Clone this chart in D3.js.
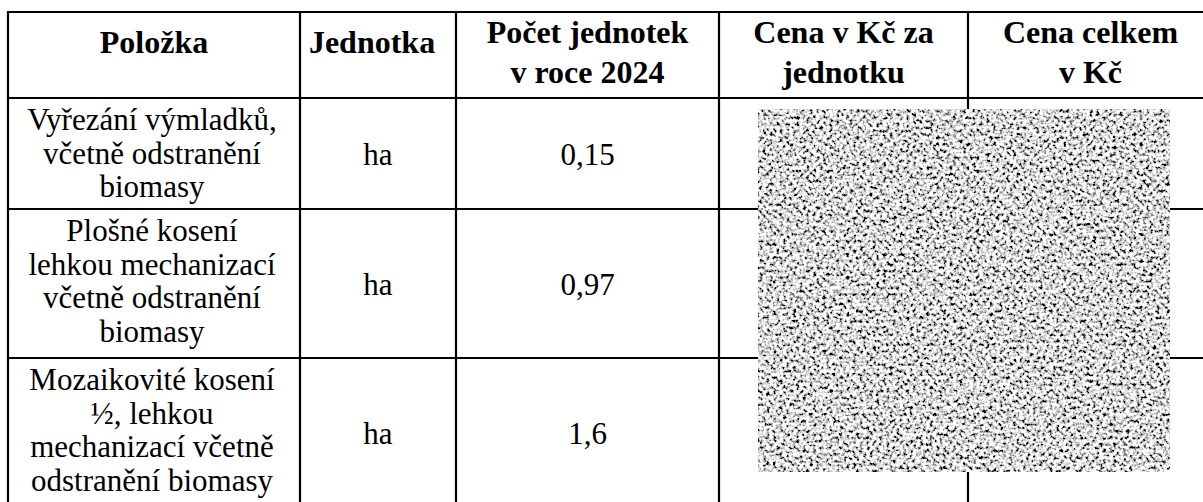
<!DOCTYPE html>
<html>
<head>
<meta charset="utf-8">
<script src="https://cdn.jsdelivr.net/npm/d3@7"></script>
<style>
  html, body { margin: 0; padding: 0; background: #fff; overflow: hidden; }
  svg { display: block; }
  text { font-family: "Liberation Serif", "Times New Roman", serif; fill: #000; }
</style>
</head>
<body>
<svg id="table"></svg>
<script>
// header texts (one entry per column, lines split by \n)
const headers = ['Položka', 'Jednotka', 'Počet jednotek\nv roce 2024', 'Cena v Kč za\njednotku', 'Cena celkem\nv Kč'];
// row data
const items = [
    'Vyřezání výmladků,\nvčetně odstranění\nbiomasy',
    'Plošné kosení\nlehkou mechanizací\nvčetně odstranění\nbiomasy',
    'Mozaikovité kosení\n½, lehkou\nmechanizací včetně\nodstranění biomasy'
];
const units = ['ha', 'ha', 'ha'];
const counts = [0.15, 0.97, 1.6];

const width = 1203;
const height = 502;

// layout
const colWidths = [292, 156, 263, 249, 245];
const rowHeights = [86, 111, 149, 149];
const tableLeft = 8, tableTop = 12;
const bodyLine = 33.5;
const headLine = 40;

const fmt = v => String(v).replace('.', ',');

const rowEdges = [tableTop].concat(Array.from(d3.cumsum(rowHeights)).map(d => d + tableTop));
const xs = [tableLeft].concat(Array.from(d3.cumsum(colWidths)).map(d => d + tableLeft));

const svg = d3.select('#table')
    .attr('width', width)
    .attr('height', height);

// grid lines
svg.selectAll('line.h')
    .data(rowEdges)
    .enter().append('line')
    .attr('class', 'h')
    .attr('x1', tableLeft - 1).attr('x2', xs[xs.length - 1] + 1)
    .attr('y1', d => d).attr('y2', d => d)
    .style('stroke', '#000').style('stroke-width', 2.2);

svg.selectAll('line.v')
    .data(xs)
    .enter().append('line')
    .attr('class', 'v')
    .attr('x1', d => d).attr('x2', d => d)
    .attr('y1', tableTop - 1).attr('y2', rowEdges[rowEdges.length - 1] + 1)
    .style('stroke', '#000').style('stroke-width', 2.2);

const colCenter = i => (xs[i] + xs[i + 1]) / 2;

// header
headers.forEach((h, i) => {
    const lines = h.split('\n');
    const y0 = rowEdges[0] + (lines.length === 1 ? 41 : 31);
    const t = svg.append('text')
        .attr('text-anchor', 'middle')
        .style('font-weight', 'bold')
        .style('font-size', '32px');
    t.selectAll('tspan')
        .data(lines)
        .enter().append('tspan')
        .attr('x', colCenter(i) + (i === 1 ? -6 : 0))
        .attr('y', (d, k) => y0 + k * headLine)
        .text(d => d);
});

// body rows
items.forEach((item, r) => {
    const rt = rowEdges[r + 1];
    const rb = rt + rowHeights[r + 1];
    const lines = item.split('\n');
    const t = svg.append('text')
        .attr('text-anchor', 'middle')
        .style('font-size', '31px');
    t.selectAll('tspan')
        .data(lines)
        .enter().append('tspan')
        .attr('x', colCenter(0) - 2)
        .attr('y', (d, k) => rt + 32 + k * bodyLine)
        .text(d => d);

    const cy = (rt + rb) / 2 + 11;
    svg.append('text')
        .attr('text-anchor', 'middle')
        .style('font-size', '31px')
        .attr('x', colCenter(1))
        .attr('y', cy)
        .text(units[r]);
    svg.append('text')
        .attr('text-anchor', 'middle')
        .style('font-size', '31px')
        .attr('x', colCenter(2))
        .attr('y', cy)
        .text(fmt(counts[r]));
});

// noise patch hiding the prices
const defs = svg.append('defs');
const f = defs.append('filter')
    .attr('id', 'noise')
    .attr('x', 0).attr('y', 0).attr('width', 1).attr('height', 1);
f.append('feTurbulence')
    .attr('type', 'fractalNoise')
    .attr('baseFrequency', 0.3)
    .attr('numOctaves', 2)
    .attr('seed', 7)
    .attr('result', 'n');
f.append('feColorMatrix')
    .attr('in', 'n')
    .attr('type', 'matrix')
    .attr('values', '3.4 0 0 0 -1.0  3.4 0 0 0 -1.0  3.4 0 0 0 -1.0  0 0 0 0 1')
    .attr('result', 'g');
f.append('feGaussianBlur')
    .attr('in', 'g')
    .attr('stdDeviation', 0.6);

svg.append('rect')
    .attr('x', 758).attr('y', 109)
    .attr('width', 412).attr('height', 363)
    .style('filter', 'url(#noise)')
    .style('fill', '#fff');
</script>
</body>
</html>
